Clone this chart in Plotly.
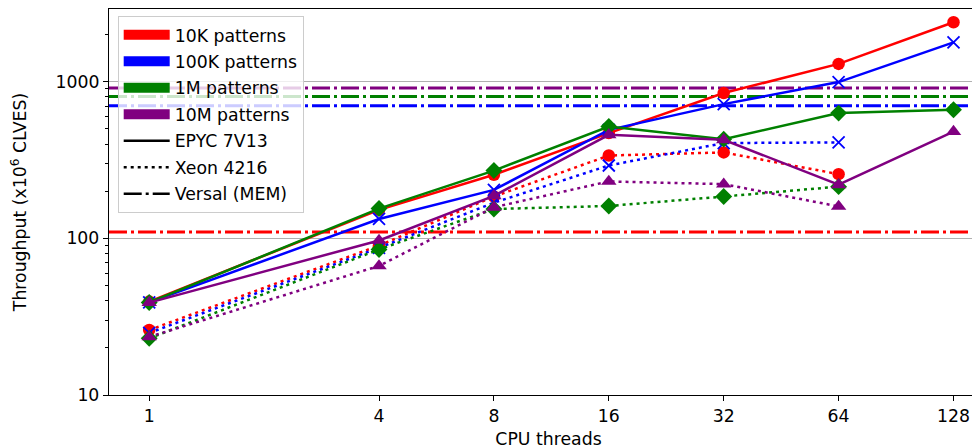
import plotly.graph_objects as go
import numpy as np

threads = [1, 4, 8, 16, 32, 64, 128]
xeon_threads = [1, 4, 8, 16, 32, 64]
size_names = ["10K patterns", "100K patterns", "1M patterns", "10M patterns"]
colors = ["red", "blue", "green", "purple"]
symbols = ["circle", "x-thin", "diamond", "triangle-up"]

epyc_10k = [39.5, 152, 255, 470, 847, 1300, 2400]
epyc_100k = [39, 133, 204, 493, 720, 995, 1783]
epyc_1m = [39, 155, 271, 518, 430, 631, 663]
epyc_10m = [38.9, 97, 187, 458, 426, 220, 481]

xeon_10k = [26, 90, 185, 338, 354, 257]
xeon_100k = [24.9, 87, 169, 292, 406, 410]
xeon_1m = [23, 85, 154, 161, 185, 214]
xeon_10m = [23.5, 66.7, 158, 231, 222, 160]

versal = [110, 703, 805, 912]

platform_names = ["EPYC 7V13", "Xeon 4216", "Versal (MEM)"]

y_ticks = [10, 100, 1000]
x_ticks = [1, 4, 8, 16, 32, 64, 128]

epyc = [epyc_10k, epyc_100k, epyc_1m, epyc_10m]
xeon = [xeon_10k, xeon_100k, xeon_1m, xeon_10m]

FONT = "DejaVu Sans"
FS = 17.3
DOT = "3px,4px"
DASHDOT = "18px,4px,3px,4px"

# The page body adds an 8px offset; figure coordinates below account for it.
PLOT_L, PLOT_T, PLOT_B = 101.3, 1.0, 386.7
FIG_W, FIG_H = 980, 448
DECADE = 156.5
OCTAVE = 114.86

fig = go.Figure()


def marker(i):
    if symbols[i] == "x-thin":
        return dict(symbol="x-thin", size=12, color=colors[i],
                    line=dict(color=colors[i], width=1.8))
    size = {"circle": 12.5, "diamond": 13, "triangle-up": 13.5}[symbols[i]]
    return dict(symbol=symbols[i], size=size, color=colors[i],
                line=dict(width=0))


# Xeon (dotted)
for i in range(4):
    fig.add_trace(go.Scatter(
        x=xeon_threads, y=xeon[i], mode="lines+markers",
        line=dict(color=colors[i], width=2.5, dash=DOT),
        marker=marker(i), showlegend=False, hoverinfo="skip"))

# EPYC (solid)
for i in range(4):
    fig.add_trace(go.Scatter(
        x=threads, y=epyc[i], mode="lines+markers",
        line=dict(color=colors[i], width=2.5),
        marker=marker(i), showlegend=False, hoverinfo="skip"))

# Versal horizontal lines (full width of the axes)
for i in range(4):
    fig.add_shape(type="line", xref="paper", x0=0, x1=1, yref="y",
                  y0=versal[i], y1=versal[i],
                  line=dict(color=colors[i], width=3, dash=DASHDOT),
                  layer="below")

# Legend entries
for i in range(4):
    fig.add_trace(go.Scatter(
        x=[None], y=[None], mode="lines", name=size_names[i],
        line=dict(color=colors[i], width=14), legendgroup=f"g{i}"))
for j, d in enumerate(["solid", DOT, DASHDOT]):
    fig.add_trace(go.Scatter(
        x=[None], y=[None], mode="lines", name=platform_names[j],
        line=dict(color="black", width=2.5, dash=d), legendgroup=f"p{j}"))

minor_vals = [m * 10 ** e for e in range(1, 4) for m in range(2, 10) if m * 10 ** e <= 3000]

plot_w = FIG_W - PLOT_L
plot_h = PLOT_B - PLOT_T
x_left_oct = -0.35
x_right_oct = x_left_oct + plot_w / OCTAVE
y_top = 1 + plot_h / DECADE

fig.update_layout(
    width=FIG_W, height=FIG_H,
    margin=dict(l=PLOT_L, r=0, t=PLOT_T, b=FIG_H - PLOT_B, autoexpand=False),
    paper_bgcolor="white", plot_bgcolor="white",
    font=dict(family=FONT, size=FS, color="black"),
    showlegend=True,
    legend=dict(x=(110 - PLOT_L) / plot_w, y=1 - (8 - PLOT_T) / plot_h,
                xanchor="left", yanchor="top",
                bgcolor="rgba(255,255,255,0.8)", bordercolor="#cccccc",
                borderwidth=1, font=dict(family=FONT, size=FS),
                traceorder="grouped", tracegroupgap=1, itemwidth=46),
    xaxis=dict(type="log", range=[x_left_oct * np.log10(2), x_right_oct * np.log10(2)],
               tickmode="array", tickvals=x_ticks, ticktext=[str(t) for t in x_ticks],
               ticks="outside", ticklen=5, tickwidth=1.3, tickcolor="black",
               showgrid=False, zeroline=False, automargin=False,
               showline=True, linecolor="black", linewidth=1.3, mirror=True,
               title=dict(text="CPU threads", standoff=7,
                          font=dict(family=FONT, size=FS))),
    yaxis=dict(type="log", range=[1, y_top],
               tickmode="array", tickvals=y_ticks, ticktext=[str(t) for t in y_ticks],
               ticks="outside", ticklen=5, tickwidth=1.3, tickcolor="black",
               showgrid=True, gridcolor="#b0b0b0", gridwidth=1.3,
               zeroline=False, automargin=False,
               showline=True, linecolor="black", linewidth=1.3, mirror=False,
               minor=dict(tickmode="array", tickvals=minor_vals, ticks="outside",
                          ticklen=3, tickwidth=1, tickcolor="black", showgrid=False),
               title=dict(text="Throughput (x10<sup>6</sup> CLVES)", standoff=28,
                          font=dict(family=FONT, size=FS))),
)

fig.write_html("out.html")
